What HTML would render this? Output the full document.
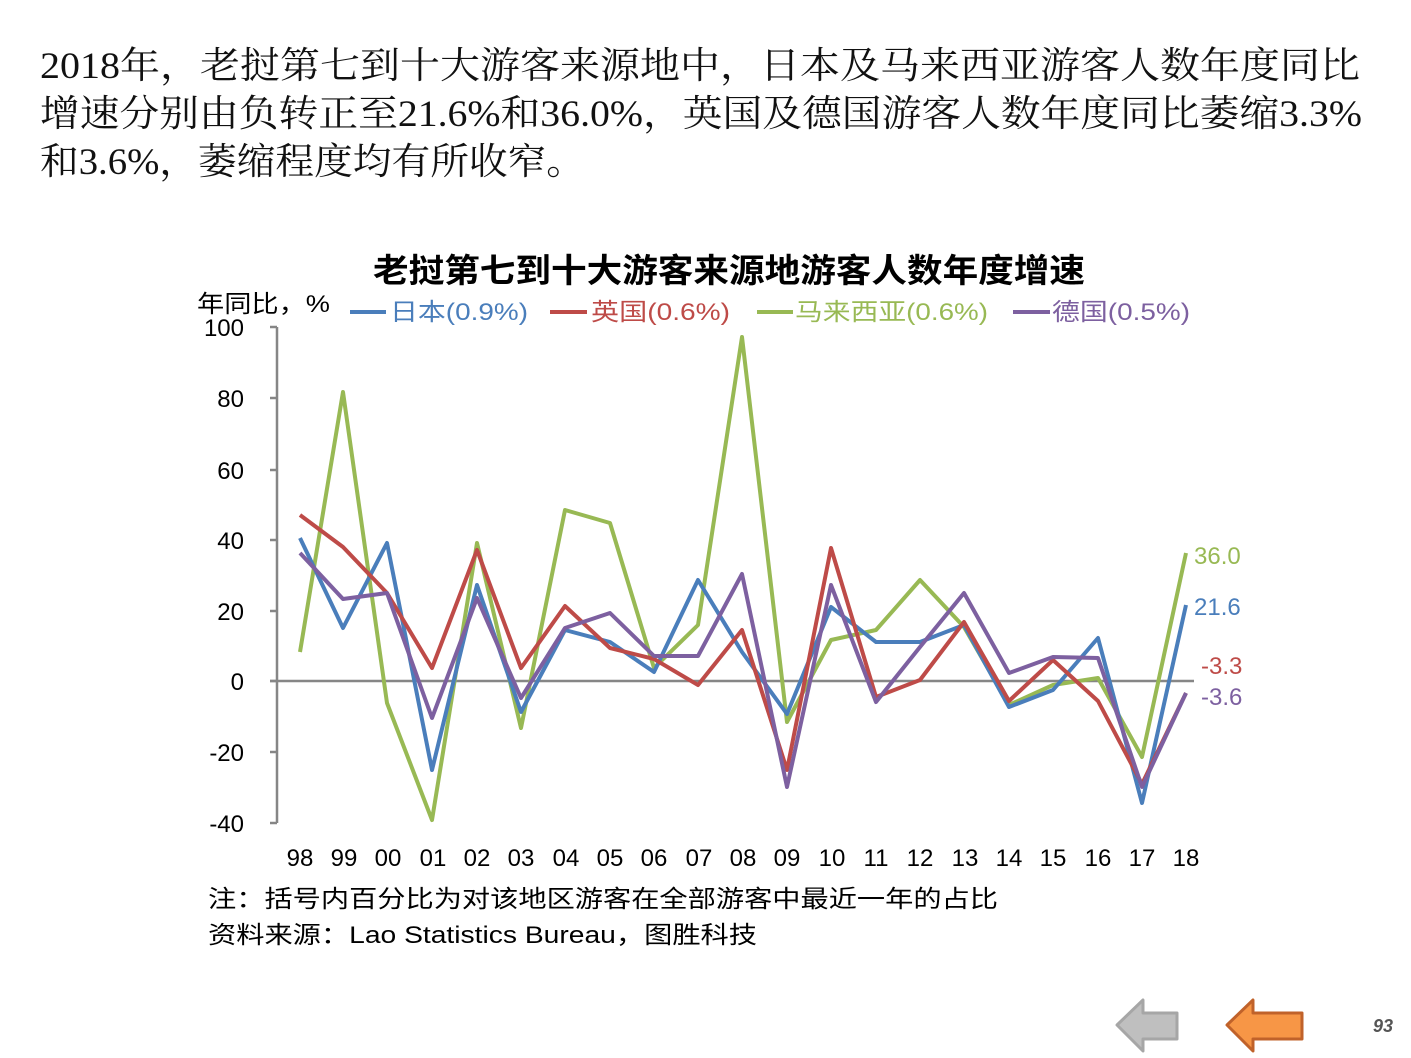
<!DOCTYPE html>
<html><head><meta charset="utf-8"><style>
html,body{margin:0;padding:0;background:#fff;}
svg{display:block;}
</style></head><body>
<svg width="1411" height="1058" viewBox="0 0 1411 1058" xmlns="http://www.w3.org/2000/svg">
<g font-family="'Liberation Serif','Noto Serif CJK SC',serif" font-size="37" fill="#111">
<text x="40" y="78" textLength="1320" lengthAdjust="spacingAndGlyphs">2018年，老挝第七到十大游客来源地中，日本及马来西亚游客人数年度同比</text>
<text x="40" y="126" textLength="1322" lengthAdjust="spacingAndGlyphs">增速分别由负转正至21.6%和36.0%，英国及德国游客人数年度同比萎缩3.3%</text>
<text x="40" y="174" textLength="545" lengthAdjust="spacingAndGlyphs">和3.6%，萎缩程度均有所收窄。</text>
</g>
<text x="373" y="282" font-family="'Liberation Sans','Noto Sans CJK SC',sans-serif" font-size="33" font-weight="bold" fill="#000" textLength="712" lengthAdjust="spacingAndGlyphs">老挝第七到十大游客来源地游客人数年度增速</text>
<g font-family="'Liberation Sans','Noto Sans CJK SC',sans-serif" font-size="24">
<text x="197" y="312" fill="#000" textLength="133" lengthAdjust="spacingAndGlyphs">年同比，%</text>
<line x1="350" y1="312" x2="386" y2="312" stroke="#4a7ebb" stroke-width="4"/>
<text x="390" y="320" fill="#4a7ebb" textLength="138" lengthAdjust="spacingAndGlyphs">日本(0.9%)</text>
<line x1="550" y1="312" x2="587" y2="312" stroke="#be4b48" stroke-width="4"/>
<text x="591" y="320" fill="#be4b48" textLength="139" lengthAdjust="spacingAndGlyphs">英国(0.6%)</text>
<line x1="757" y1="312" x2="793" y2="312" stroke="#98b954" stroke-width="4"/>
<text x="795" y="320" fill="#98b954" textLength="193" lengthAdjust="spacingAndGlyphs">马来西亚(0.6%)</text>
<line x1="1013" y1="312" x2="1050" y2="312" stroke="#7d60a0" stroke-width="4"/>
<text x="1052" y="320" fill="#7d60a0" textLength="138" lengthAdjust="spacingAndGlyphs">德国(0.5%)</text>
</g>
<g stroke="#868686" stroke-width="2.5" fill="none">
<line x1="277" y1="327" x2="277" y2="823"/>
<line x1="270" y1="327" x2="277" y2="327"/><line x1="270" y1="398" x2="277" y2="398"/>
<line x1="270" y1="470" x2="277" y2="470"/><line x1="270" y1="540" x2="277" y2="540"/>
<line x1="270" y1="611" x2="277" y2="611"/><line x1="270" y1="681" x2="277" y2="681"/>
<line x1="270" y1="752" x2="277" y2="752"/><line x1="270" y1="823" x2="277" y2="823"/>
<line x1="270" y1="681" x2="1194" y2="681"/>
</g>
<g font-family="'Liberation Sans',sans-serif" font-size="24" fill="#000" text-anchor="end">
<text x="244" y="336">100</text><text x="244" y="407">80</text><text x="244" y="479">60</text>
<text x="244" y="549">40</text><text x="244" y="620">20</text><text x="244" y="690">0</text>
<text x="244" y="761">-20</text><text x="244" y="832">-40</text>
</g>
<g font-family="'Liberation Sans',sans-serif" font-size="24" fill="#000" text-anchor="middle">
<text x="300" y="866">98</text><text x="344" y="866">99</text><text x="388" y="866">00</text><text x="433" y="866">01</text><text x="477" y="866">02</text><text x="521" y="866">03</text><text x="566" y="866">04</text><text x="610" y="866">05</text><text x="654" y="866">06</text><text x="699" y="866">07</text><text x="743" y="866">08</text><text x="787" y="866">09</text><text x="832" y="866">10</text><text x="876" y="866">11</text><text x="920" y="866">12</text><text x="965" y="866">13</text><text x="1009" y="866">14</text><text x="1053" y="866">15</text><text x="1098" y="866">16</text><text x="1142" y="866">17</text><text x="1186" y="866">18</text>
</g>
<g fill="none" stroke-width="4" stroke-linejoin="round">
<polyline stroke="#98b954" points="300,652 343,392 387,703 432,820 477,543 521,728 565,510 610,523 654,668 698,625 742,337 787,722 831,640 876,630 920,580 964,627 1009,705 1053,685 1098,678 1142,757 1186,553"/>
<polyline stroke="#4a7ebb" points="300,538 343,628 387,543 432,770 477,585 521,712 565,630 610,642 654,672 698,580 742,652 787,714 831,607 876,642 920,642 964,625 1009,707 1053,690 1098,638 1142,803 1186,605"/>
<polyline stroke="#be4b48" points="300,515 343,547 387,593 432,668 477,550 521,668 565,606 610,648 654,659 698,685 742,630 787,770 831,548 876,697 920,680 964,622 1009,701 1053,660 1098,701 1142,784 1186,693"/>
<polyline stroke="#7d60a0" points="300,553 343,599 387,593 432,718 477,598 521,698 565,628 610,613 654,656 698,656 742,574 787,787 831,585 876,702 920,647 964,593 1009,673 1053,657 1098,658 1142,787 1186,693"/>
</g>
<g font-family="'Liberation Sans',sans-serif" font-size="24">
<text x="1194" y="564" fill="#98b954">36.0</text>
<text x="1194" y="615" fill="#4a7ebb">21.6</text>
<text x="1201" y="674" fill="#be4b48">-3.3</text>
<text x="1201" y="705" fill="#7d60a0">-3.6</text>
</g>
<g font-family="'Liberation Sans','Noto Sans CJK SC',sans-serif" font-size="24" fill="#000">
<text x="208" y="907" textLength="790" lengthAdjust="spacingAndGlyphs">注：括号内百分比为对该地区游客在全部游客中最近一年的占比</text>
<text x="208" y="943" textLength="549" lengthAdjust="spacingAndGlyphs">资料来源：Lao Statistics Bureau，图胜科技</text>
</g>
<polygon points="1117,1025 1143,1000 1143,1013 1177,1013 1177,1039 1143,1039 1143,1051" fill="#bfbfbf" stroke="#a6a6a6" stroke-width="3" stroke-linejoin="round"/>
<polygon points="1227,1025 1253,1000 1253,1013 1302,1013 1302,1039 1253,1039 1253,1051" fill="#f79646" stroke="#c0622a" stroke-width="3" stroke-linejoin="round"/>
<text x="1393" y="1032" text-anchor="end" font-family="'Liberation Sans',sans-serif" font-size="18" font-weight="bold" font-style="italic" fill="#555">93</text>
</svg>
</body></html>
